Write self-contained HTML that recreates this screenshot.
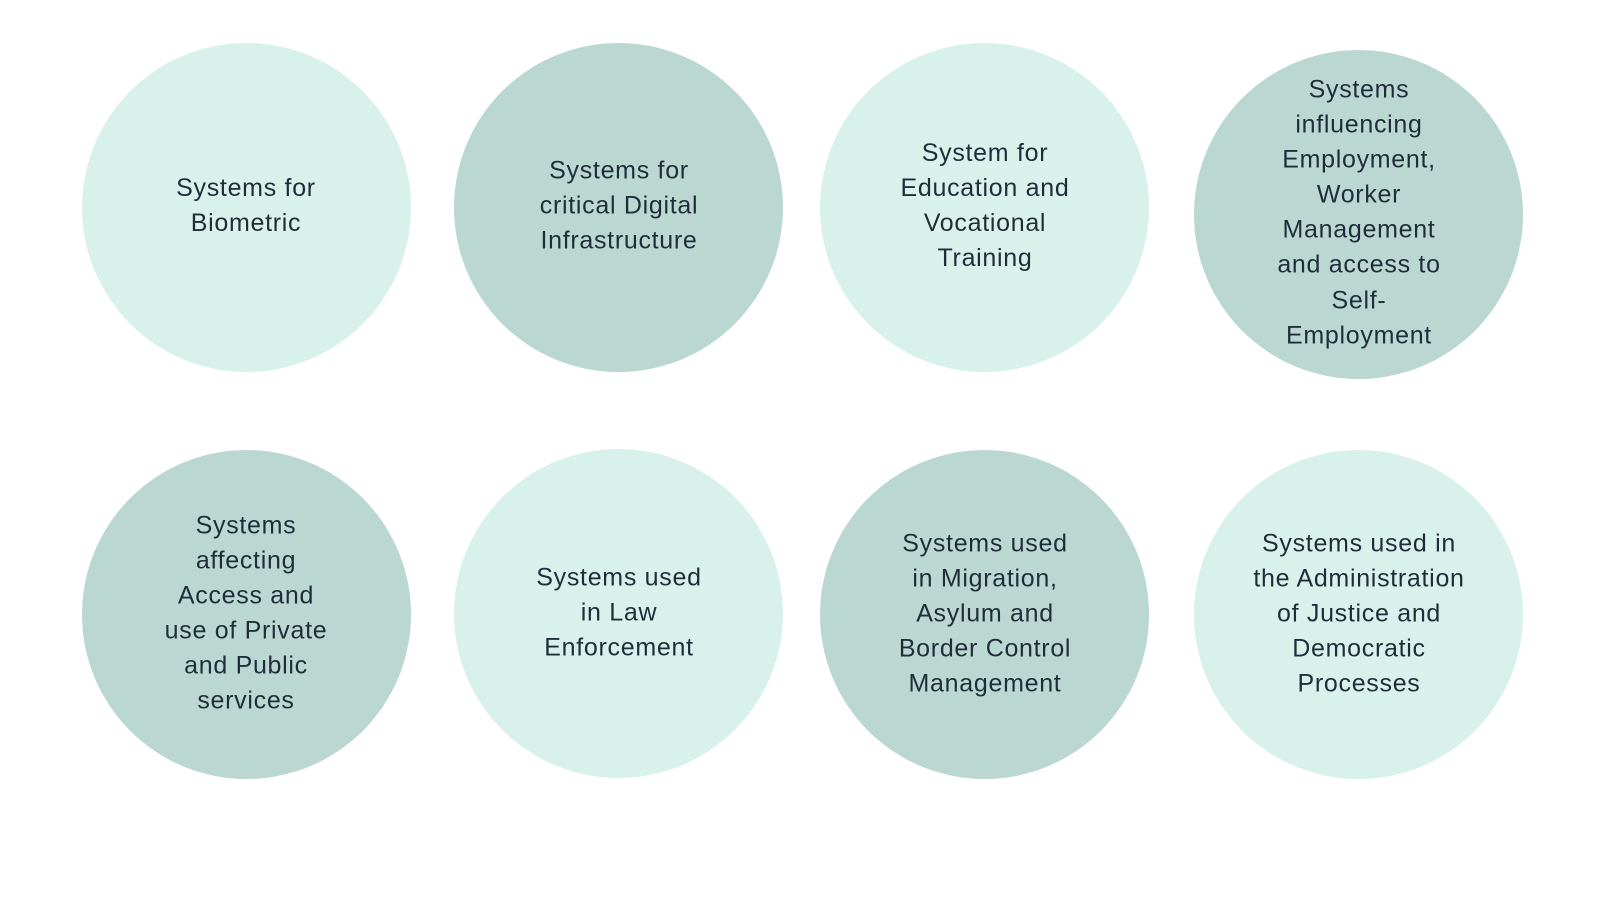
<!DOCTYPE html>
<html><head><meta charset="utf-8"><style>
body{margin:0;width:1600px;height:900px;background:#fff;position:relative;overflow:hidden;font-family:"Liberation Sans",sans-serif;}
.c{position:absolute;width:329px;height:329px;border-radius:50%;}
.l{background:#d8f2eb}.d{background:#bad8d1}
.t{position:absolute;width:320px;text-align:center;color:#1f2d3a;font-size:25px;line-height:35.1px;letter-spacing:0.7px;transform:translate(-50%,-50%);}
</style></head><body>
<div class="c l" style="left:82px;top:43px"></div>
<div class="c d" style="left:454px;top:43px"></div>
<div class="c l" style="left:820px;top:43px"></div>
<div class="c d" style="left:1194px;top:50px"></div>
<div class="c d" style="left:82px;top:450px"></div>
<div class="c l" style="left:454px;top:449px"></div>
<div class="c d" style="left:820px;top:450px"></div>
<div class="c l" style="left:1194px;top:450px"></div>

<div class="t" style="left:246px;top:206px">Systems for<br>Biometric</div>
<div class="t" style="left:619px;top:206px">Systems for<br>critical Digital<br>Infrastructure</div>
<div class="t" style="left:985px;top:206px">System for<br>Education and<br>Vocational<br>Training</div>
<div class="t" style="left:1359px;top:213px">Systems<br>influencing<br>Employment,<br>Worker<br>Management<br>and access to<br>Self-<br>Employment</div>
<div class="t" style="left:246px;top:614px">Systems<br>affecting<br>Access and<br>use of Private<br>and Public<br>services</div>
<div class="t" style="left:619px;top:613px">Systems used<br>in Law<br>Enforcement</div>
<div class="t" style="left:985px;top:614px">Systems used<br>in Migration,<br>Asylum and<br>Border Control<br>Management</div>
<div class="t" style="left:1359px;top:614px">Systems used in<br>the Administration<br>of Justice and<br>Democratic<br>Processes</div>
</body></html>
